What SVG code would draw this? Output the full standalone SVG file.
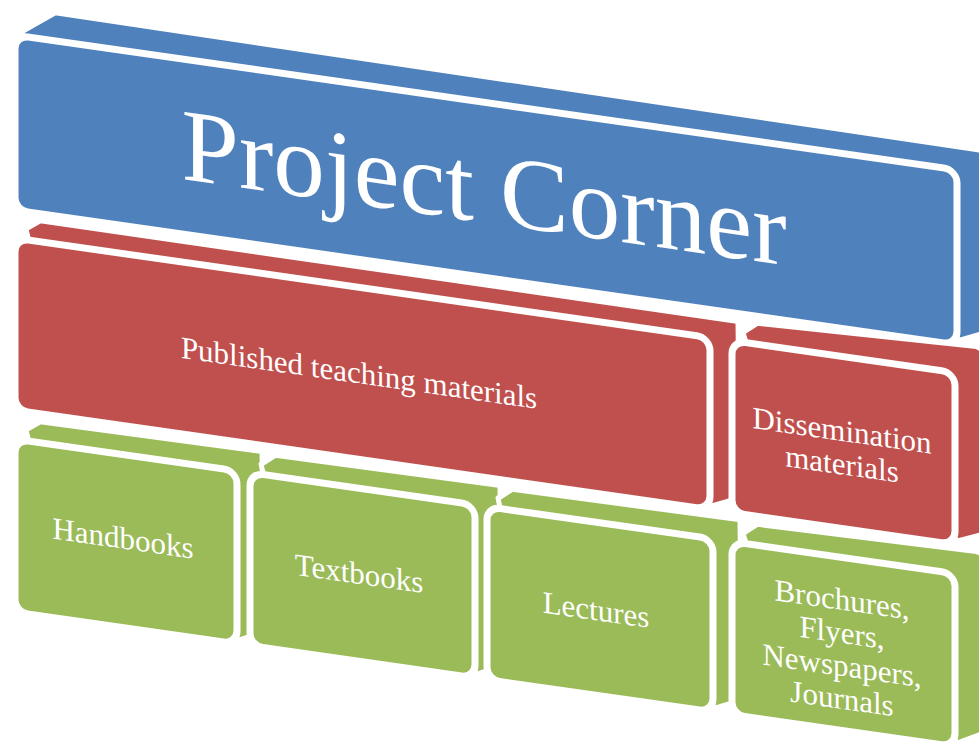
<svg xmlns="http://www.w3.org/2000/svg" width="979" height="745" viewBox="0 0 979 745">
<style>
.back{stroke:#fff;stroke-width:5;stroke-linejoin:round}
.front{stroke:#fff;stroke-width:7}
.b{fill:#4F81BD}
.r{fill:#C0504D}
.g{fill:#9BBB59}
text{font-family:"Liberation Serif","DejaVu Serif",serif;fill:#fff;text-anchor:middle;font-size:31px}
</style>
<rect width="979" height="745" fill="#fff"/>
<g transform="matrix(1 0.143 0 1 0 0)">
  <g id="project-corner">
    <path class="back b" d="M21,29 L55,5 L979,10 L985,14 L985,192 L960,203 L930,180 L40,60 Z"/>
    <rect class="front b" x="15" y="33" width="942" height="175" rx="13"/>
    <text x="484" y="153" style="font-size:103px" textLength="605" lengthAdjust="spacing">Project Corner</text>
  </g>
  <g id="published-teaching-materials">
    <path class="back r" d="M26,225 L40,215 L738,216 L740,392 L712,404 L680,380 L40,280 Z"/>
    <rect class="front r" x="15" y="236" width="695" height="172" rx="13"/>
    <text x="359" y="332">Published teaching materials</text>
  </g>
  <g id="dissemination-materials">
    <path class="back r" d="M743,226 L757,215 L976,207 L985,210 L985,393 L958,404 L930,380 L760,280 Z"/>
    <rect class="front r" x="732" y="236" width="223" height="172" rx="13"/>
    <text x="842" y="320.5">Dissemination</text>
    <text x="842" y="354">materials</text>
  </g>
  <g id="handbooks">
    <path class="back g" d="M26,426 L40,416 L262,414 L264,594 L239,606 L210,580 L40,480 Z"/>
    <rect class="front g" x="15" y="437" width="222" height="173" rx="13"/>
    <text x="123" y="531">Handbooks</text>
  </g>
  <g id="textbooks">
    <path class="back g" d="M261,427 L275,416 L500,414 L502,594 L477,606 L450,580 L275,480 Z"/>
    <rect class="front g" x="250" y="437" width="225" height="173" rx="13"/>
    <text x="359" y="532.5">Textbooks</text>
  </g>
  <g id="lectures">
    <path class="back g" d="M498,427 L512,416 L740,414 L742,594 L715,606 L690,580 L510,480 Z"/>
    <rect class="front g" x="487" y="437" width="226" height="173" rx="13"/>
    <text x="596" y="535">Lectures</text>
  </g>
  <g id="brochures">
    <path class="back g" d="M743,427 L757,416 L976,412 L985,414 L985,592 L958,606 L930,580 L760,480 Z"/>
    <rect class="front g" x="732" y="437" width="223" height="173" rx="13"/>
    <text x="842" y="489.5">Brochures,</text>
    <text x="842" y="522.5">Flyers,</text>
    <text x="842" y="555.5">Newspapers,</text>
    <text x="842" y="588.5">Journals</text>
  </g>
  <g id="connectors"/>
</g>
</svg>
